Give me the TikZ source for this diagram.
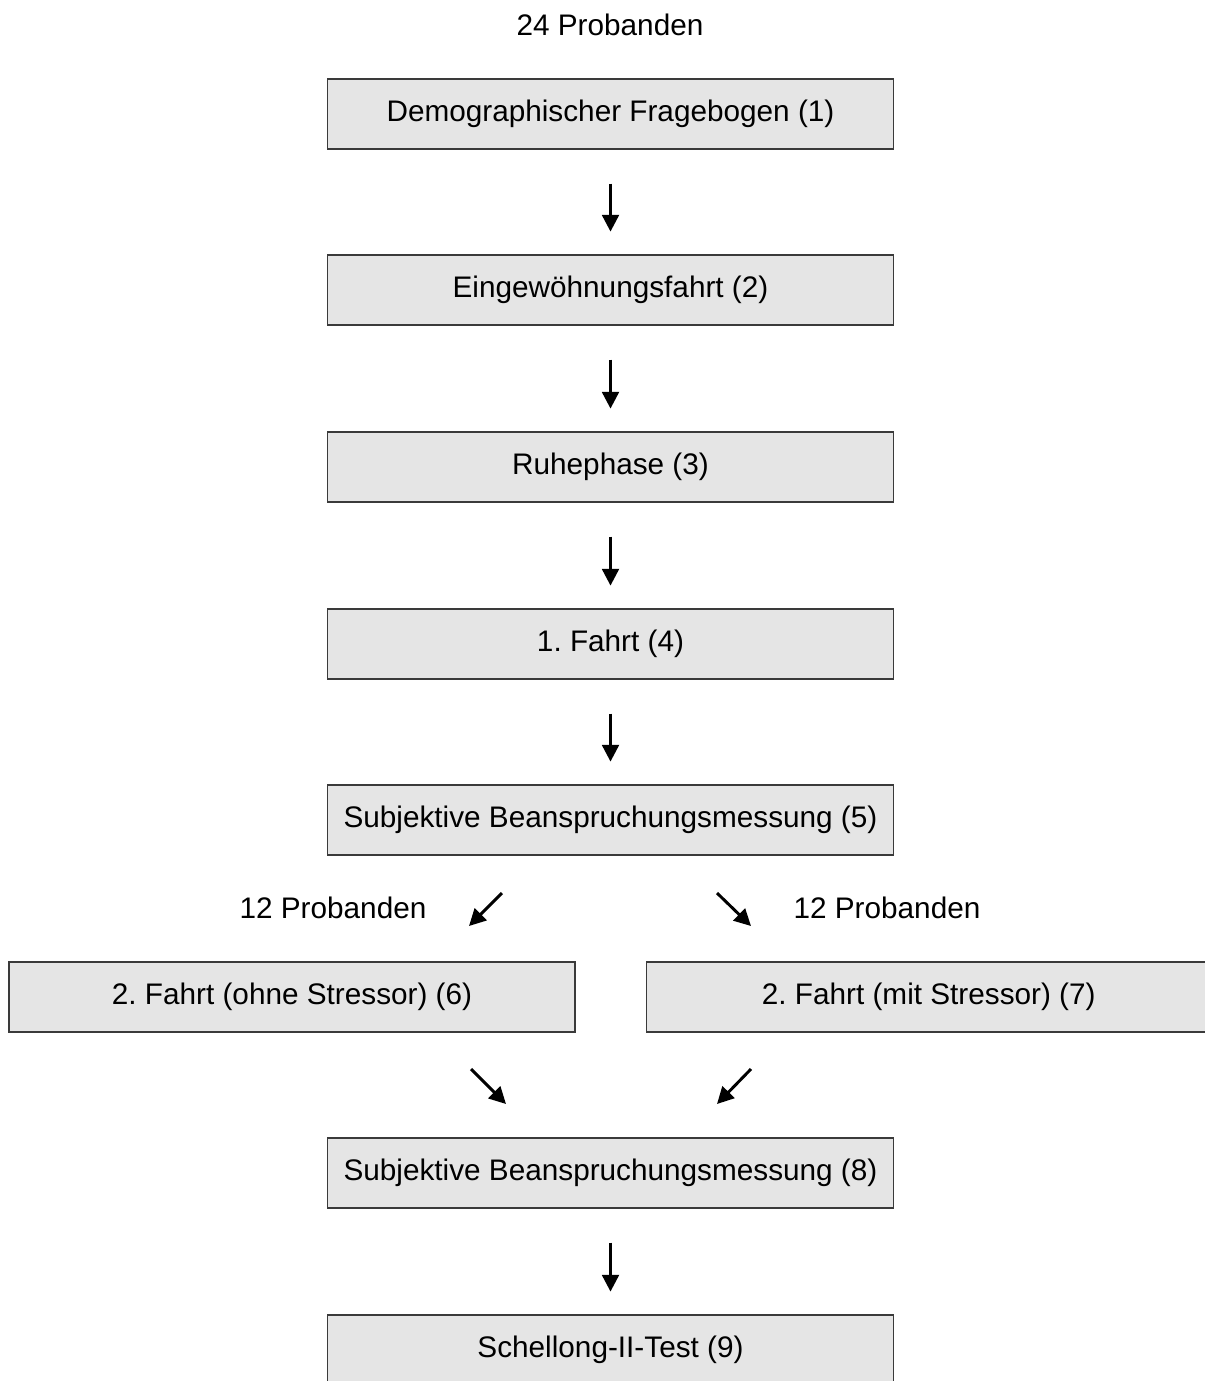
\documentclass[tikz,border=0pt]{standalone}
\usepackage{fontspec}
\setmainfont{Liberation Sans}
\usetikzlibrary{arrows.meta}
\definecolor{boxfill}{HTML}{E5E5E5}
\definecolor{boxline}{HTML}{3A3A3A}
\frenchspacing
\begin{document}
\begin{tikzpicture}[x=0.75pt,y=-0.75pt,
  stagebox/.style={draw=boxline, line width=1.1pt, fill=boxfill,
    minimum width=424.5pt, minimum height=52.5pt, inner sep=0pt,
    font=\fontsize{22.3}{26}\selectfont},
  label/.style={font=\fontsize{22.3}{26}\selectfont, inner sep=0pt},
  flow/.style={line width=2.2pt, -{Triangle[length=12.5pt,width=12.5pt]}},
  down/.style={flow, shorten <=25.5pt, shorten >=17pt}]
\clip (0,0) rectangle (1205,1381);
\fill[white] (0,0) rectangle (1205,1381);

\node[label] (n24) at (610,25) {24 Probanden};
\node[stagebox] (b1) at (610.5,114) {Demographischer Fragebogen (1)};
\node[stagebox] (b2) at (610.5,290) {Eingewöhnungsfahrt (2)};
\node[stagebox] (b3) at (610.5,467) {Ruhephase (3)};
\node[stagebox] (b4) at (610.5,644) {1. Fahrt (4)};
\node[stagebox] (b5) at (610.5,820) {Subjektive Beanspruchungsmessung (5)};
\node[stagebox] (b6) at (292,997) {2. Fahrt (ohne Stressor) (6)};
% the right-hand box runs on past the edge of the page
\node[stagebox, minimum width=435pt, anchor=west] (b7) at (646,997)
  {\hspace*{-12pt}2. Fahrt (mit Stressor) (7)};
\node[stagebox] (b8) at (610.5,1173) {Subjektive Beanspruchungsmessung (8)};
\node[stagebox] (b9) at (610.5,1350) {Schellong-II-Test (9)};

\node[label] (n12l) at (333,908) {12 Probanden};
\node[label] (n12r) at (887,908) {12 Probanden};

\draw[down] (b1) -- (b2);
\draw[down] (b2) -- (b3);
\draw[down] (b3) -- (b4);
\draw[down] (b4) -- (b5);
\draw[down] (b8) -- (b9);

% split and merge arrows
\coordinate (sl0) at (502,893); \coordinate (sl1) at (469,926);
\coordinate (sr0) at (717,893); \coordinate (sr1) at (751,926);
\coordinate (ml0) at (471,1069); \coordinate (ml1) at (506,1104);
\coordinate (mr0) at (751,1069); \coordinate (mr1) at (717,1104);
\draw[flow] (sl0) -- (sl1);
\draw[flow] (sr0) -- (sr1);
\draw[flow] (ml0) -- (ml1);
\draw[flow] (mr0) -- (mr1);
\end{tikzpicture}
\end{document}
